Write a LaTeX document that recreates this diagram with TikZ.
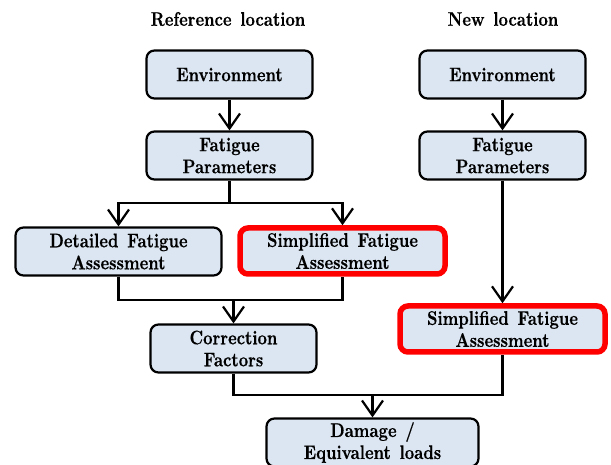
\documentclass[tikz,border=0pt]{standalone}
\usepackage{fontspec}
\newfontfamily\boxfont{lmroman10-bold.otf}[FakeStretch=0.83,WordSpace=1.4,FakeBold=0.4]
\usetikzlibrary{arrows.meta}
\definecolor{boxfill}{RGB}{220,230,242}
\definecolor{hl}{RGB}{255,0,0}
\tikzset{
  box/.style={draw=black, line width=2.2pt, fill=boxfill, rounded corners=8pt,
    minimum width=166pt, minimum height=48pt, align=center, inner sep=2pt,
    font=\boxfont\fontsize{19.7}{22}\selectfont},
  wide/.style={minimum width=206pt},
  redbox/.style={draw=hl, line width=5.5pt, minimum width=205pt, minimum height=46pt},
  title/.style={font=\boxfont\fontsize{19.7}{22}\selectfont},
  conn/.style={line width=2.2pt, draw=black},
  arr/.style={conn, -{Straight Barb[length=15pt,width=21pt]}}
}
\begin{document}
\begin{tikzpicture}[x=1pt,y=-1pt]
\useasboundingbox (0,0) rectangle (611,465);
\node[title] (tL) at (228,19) {Reference location};
\node[title] (tR) at (503,19) {New location};
\node[box] (EL) at (229.5,74.5) {Environment};
\node[box] (FL) at (229.5,155.5) {Fatigue\\Parameters};
\node[box,wide] (DL) at (118.5,251.5) {Detailed Fatigue\\Assessment};
\node[box,redbox] (SL) at (342.5,251) {Simplified Fatigue\\Assessment};
\node[box] (CL) at (233.5,348.5) {Correction\\Factors};
\node[box] (ER) at (502.5,74.5) {Environment};
\node[box] (FR) at (502.5,155.5) {Fatigue\\Parameters};
\node[box,redbox] (SR) at (502.5,329) {Simplified Fatigue\\Assessment};
\node[box,minimum width=212pt] (DM) at (372.5,442.5) {Damage /\\Equivalent loads};
\coordinate (j1) at (229.5,203);
\coordinate (j2) at (233.5,300);
\coordinate (j3) at (372.5,395);
\draw[arr] (EL) -- (FL);
\draw[arr] (ER) -- (FR);
\draw[conn] (FL.south) -- (j1);
\draw[arr] (j1) -| (DL.north);
\draw[arr] (j1) -| (SL.north);
\draw[conn] (DL.south) |- (j2) -| (SL.south);
\draw[arr] (j2) -- (CL.north);
\draw[conn] (CL.south) |- (j3) -| (SR.south);
\draw[arr] (j3) -- (DM.north);
\draw[arr] (FR.south) -- (SR.north);
\end{tikzpicture}
\end{document}
